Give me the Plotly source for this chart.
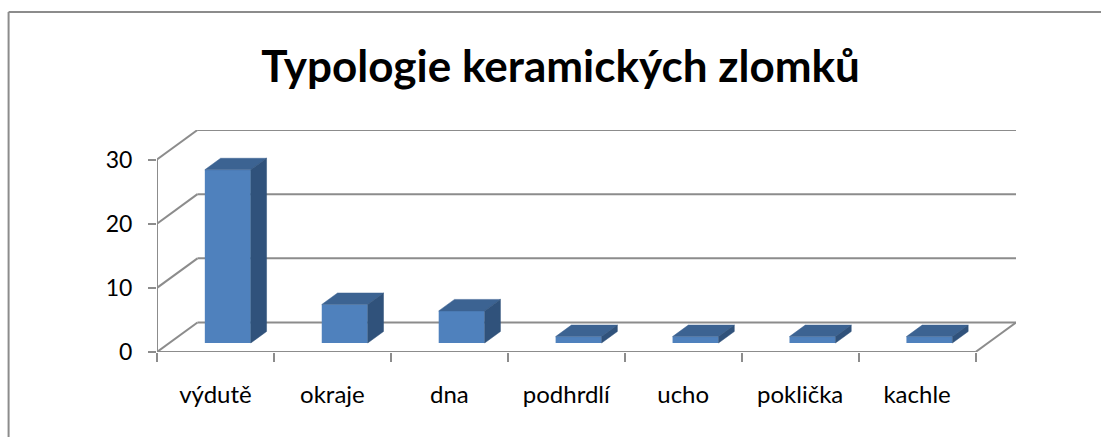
import plotly.graph_objects as go

# ---- data ----
categories = ["výdutě", "okraje", "dna", "podhrdlí", "ucho", "poklička", "kachle"]
counts = [27, 6, 5, 1, 1, 1, 1]
y_ticks = [0, 10, 20, 30]
title_text = "Typologie keramických zlomků"

# ---- 3D (oblique) styling constants ----
DX = 0.346      # depth offset, in category units
DY = 4.6        # depth offset, in value units
BAR_W = 0.393   # bar width (category units)
D_FRONT = 0.305 # depth fraction where bar front face sits
D_BAR = 0.39    # bar depth fraction
GRID = "#8c8c8c"
FRONT = "#4F81BD"
TOP = "#3C6392"
SIDE = "#30527B"
FONT = "Lato"

n = len(categories)
ymax = max(y_ticks)

shapes = []
def seg(x0, y0, x1, y1, w=2, col=GRID):
    shapes.append(dict(type="line", xref="x", yref="y",
                       x0=x0, y0=y0, x1=x1, y1=y1,
                       line=dict(color=col, width=w), layer="below"))

for v in y_ticks:
    seg(DX, v + DY, n + DX, v + DY)      # back wall gridline
    seg(0, v, DX, v + DY)                # side wall gridline
seg(0, 0, 0, ymax)                       # front value axis
seg(0, 0, n, 0)                          # floor front edge
seg(n, 0, n + DX, DY)                    # floor right edge

# chart outer border (left and top, rest is outside view)
L, R, T, B = 157, 84.5, 130, 85
W, H = 1101, 437
pw, ph = W - L - R, H - T - B
def px(xp): return (xp - L) / pw
def py(yp): return (H - B - yp) / ph
shapes.append(dict(type="line", xref="paper", yref="paper", x0=px(8.5), x1=px(8.5),
                   y0=py(12), y1=py(460), line=dict(color=GRID, width=2)))
shapes.append(dict(type="line", xref="paper", yref="paper", x0=px(8.5), x1=px(1120),
                   y0=py(12), y1=py(12), line=dict(color=GRID, width=2)))

fig = go.Figure()

centers = [i + 0.5 + D_FRONT * DX for i in range(n)]
fig.add_trace(go.Bar(x=centers, y=counts, base=D_FRONT * DY, width=BAR_W,
                     marker=dict(color=FRONT, line=dict(width=0)), hoverinfo="skip"))

tx, ty = D_BAR * DX, D_BAR * DY
top_x, top_y, side_x, side_y = [], [], [], []
for i, v in enumerate(counts):
    x0 = i + 0.5 - BAR_W / 2 + D_FRONT * DX
    x1 = x0 + BAR_W
    yb = D_FRONT * DY
    yt = v + yb
    top_x += [x0, x1, x1 + tx, x0 + tx, x0, None]
    top_y += [yt, yt, yt + ty, yt + ty, yt, None]
    side_x += [x1, x1 + tx, x1 + tx, x1, x1, None]
    side_y += [yb, yb + ty, yt + ty, yt, yb, None]

fig.add_trace(go.Scatter(x=top_x, y=top_y, fill="toself", fillcolor=TOP, mode="lines",
                         line=dict(color=TOP, width=0.5), hoverinfo="skip"))
fig.add_trace(go.Scatter(x=side_x, y=side_y, fill="toself", fillcolor=SIDE, mode="lines",
                         line=dict(color=SIDE, width=0.5), hoverinfo="skip"))

fig.update_layout(
    width=W, height=H,
    margin=dict(l=L, r=R, t=T, b=B, pad=0, autoexpand=False),
    paper_bgcolor="white", plot_bgcolor="white",
    showlegend=False,
    shapes=shapes,
    title=dict(text=title_text, x=560.5 / W, xref="container", xanchor="center",
               y=1 - 67 / H, yref="container", yanchor="middle",
               font=dict(family=FONT, size=44, color="black", weight="bold")),
    font=dict(family=FONT, size=24, color="black"),
    xaxis=dict(range=[0, n + DX], tickmode="array",
               tickvals=[i + 0.5 for i in range(n)], ticktext=categories,
               ticks="", showgrid=False, zeroline=False, showline=False,
               ticklabelstandoff=26, tickfont=dict(size=24),
               minor=dict(tickmode="array", tickvals=list(range(n + 1)), ticks="outside",
                          ticklen=9, tickwidth=2, tickcolor=GRID, showgrid=False),
               fixedrange=True),
    yaxis=dict(range=[0, ymax + DY], tickmode="array", tickvals=y_ticks,
               ticks="outside", ticklen=8, tickwidth=2, tickcolor=GRID,
               showgrid=False, zeroline=False, showline=False,
               ticklabelstandoff=11, tickfont=dict(size=23), fixedrange=True),
)

fig.write_html("out.html", config={"displayModeBar": False},
               post_script="document.body.style.margin='0';"
                           "document.body.style.overflow='hidden';")
